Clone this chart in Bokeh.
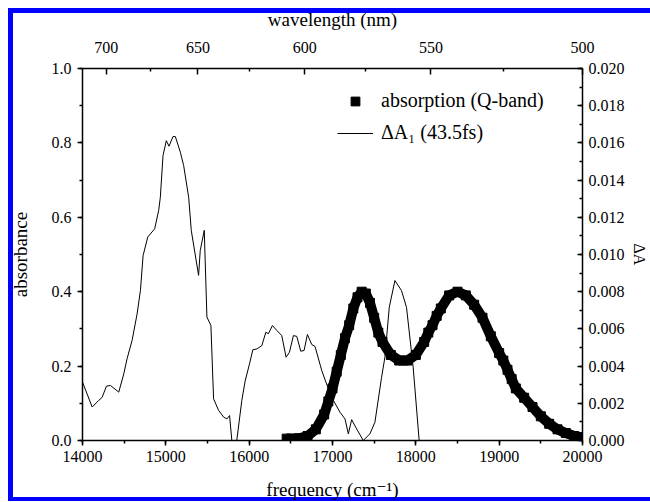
import math
from bokeh.plotting import figure
from bokeh.models import (Range1d, LinearAxis, FixedTicker, SingleIntervalTicker,
                          PrintfTickFormatter, BasicTickFormatter, Legend, LegendItem)
from bokeh.embed import file_html
from bokeh.resources import INLINE

# ---- data ----
# absorption (Q-band), left axis (absorbance)
abs_freq = [16450, 16500, 16600, 16700, 16800, 16900, 16950, 17000, 17050, 17100,
            17150, 17200, 17250, 17300, 17350, 17400, 17450, 17500, 17550, 17600,
            17700, 17800, 17900, 18000, 18100, 18150, 18200, 18250, 18300, 18400,
            18500, 18600, 18700, 18800, 18900, 19000, 19050, 19100, 19150, 19200,
            19300, 19400, 19500, 19600, 19700, 19800, 19900, 20000]
abs_val = [0.005, 0.005, 0.006, 0.012, 0.03, 0.07, 0.105, 0.14, 0.185, 0.23,
           0.275, 0.31, 0.355, 0.385, 0.40, 0.395, 0.37, 0.33, 0.29, 0.265,
           0.23, 0.215, 0.215, 0.23, 0.265, 0.29, 0.31, 0.335, 0.355, 0.39,
           0.40, 0.39, 0.365, 0.33, 0.28, 0.235, 0.215, 0.19, 0.165, 0.14,
           0.115, 0.09, 0.065, 0.045, 0.03, 0.02, 0.012, 0.008]

# Delta A_1 (43.5 fs), right axis
da_freq = [14000, 14116, 14196, 14236, 14287, 14335, 14435, 14495, 14535, 14595,
           14655, 14695, 14727, 14783, 14866, 14914, 14934, 14966, 15006, 15038,
           15086, 15114, 15174, 15214, 15274, 15305, 15393, 15413, 15461, 15493,
           15541, 15573, 15633, 15693, 15733, 15765, 15800, 15840, 15912, 15952,
           16004, 16044, 16092, 16152, 16200, 16231, 16279, 16331, 16391, 16443,
           16483, 16531, 16571, 16619, 16659, 16699, 16751, 16790, 16871, 16950,
           17010, 17090, 17150, 17190, 17230, 17290, 17369, 17449, 17509, 17589,
           17629, 17681, 17749, 17828, 17888, 17968, 18040, 18050]
da_val = [0.00314, 0.00180, 0.00216, 0.00232, 0.00292, 0.00296, 0.00260, 0.00358, 0.00440, 0.00538,
          0.00680, 0.00806, 0.00994, 0.01094, 0.01138, 0.01236, 0.01308, 0.01532, 0.01612, 0.01582,
          0.01634, 0.01634, 0.01550, 0.01478, 0.01308, 0.01130, 0.00888, 0.01022, 0.01130, 0.00664,
          0.00618, 0.00224, 0.00162, 0.00126, 0.00116, 0.00134, -0.0004, -0.0004, 0.00216, 0.00320,
          0.00412, 0.00488, 0.00492, 0.00510, 0.00582, 0.00574, 0.00618, 0.00592, 0.00564, 0.00448,
          0.00474, 0.00564, 0.00560, 0.00480, 0.00484, 0.00570, 0.00516, 0.00506, 0.00376, 0.00278,
          0.00216, 0.00152, 0.00116, 0.00036, 0.00112, 0.00062, 0.00000, 0.00036, 0.00098, 0.00340,
          0.00448, 0.00716, 0.00860, 0.00806, 0.00716, 0.00394, 0.00000, -0.0004]

wl_major = [700, 650, 600, 550, 500]
wl_minor = [675, 625, 575, 525]

FONT = "'Liberation Serif', 'DejaVu Serif', serif"
TICK_SIZE = "16px"
LABEL_SIZE = "19px"

p = figure(width=650, height=502,
           x_range=Range1d(14000, 20000), y_range=Range1d(0, 1),
           output_backend="svg", toolbar_location=None,
           min_border_left=82, min_border_right=67,
           min_border_top=68, min_border_bottom=62,
           x_axis_label="frequency (cm⁻¹)", y_axis_label="absorbance")
# blue page frame (top, left, bottom; the right edge lies beyond the picture)
p.styles = {"background": ("linear-gradient(#0000ff, #0000ff) 8px 8px / 642px 5px no-repeat, "
                           "linear-gradient(#0000ff, #0000ff) 8px 8px / 5px 493px no-repeat, "
                           "linear-gradient(#0000ff, #0000ff) 8px 497px / 642px 4px no-repeat")}
p.border_fill_color = None
p.background_fill_color = None
p.outline_line_color = None
p.xgrid.visible = False
p.ygrid.visible = False

p.extra_y_ranges = {"dA": Range1d(0, 0.02)}


def style_axis(ax):
    ax.axis_line_color = "black"
    ax.axis_line_width = 1.5
    ax.major_tick_line_color = "black"
    ax.major_tick_line_width = 1.5
    ax.minor_tick_line_color = "black"
    ax.minor_tick_line_width = 1.5
    ax.major_label_text_font = FONT
    ax.major_label_text_font_size = TICK_SIZE
    ax.major_label_text_color = "black"
    ax.axis_label_text_font = FONT
    ax.axis_label_text_font_size = LABEL_SIZE
    ax.axis_label_text_font_style = "normal"
    ax.axis_label_text_color = "black"


# bottom axis
xb = p.xaxis[0]
xb.ticker = SingleIntervalTicker(interval=1000, num_minor_ticks=2)
xb.formatter = BasicTickFormatter(use_scientific=False)
style_axis(xb)
xb.major_tick_out = 5
xb.major_tick_in = 0
xb.minor_tick_out = 3
xb.minor_tick_in = 0
xb.major_label_standoff = 5
xb.axis_label_standoff = 14

# left axis
yl = p.yaxis[0]
yl.ticker = SingleIntervalTicker(interval=0.2, num_minor_ticks=2)
yl.formatter = PrintfTickFormatter(format="%.1f")
style_axis(yl)
yl.major_tick_out = 5
yl.major_tick_in = 0
yl.minor_tick_out = 3
yl.minor_tick_in = 0
yl.major_label_standoff = 6
yl.axis_label_standoff = 18

# right axis (Delta A)
yr = LinearAxis(y_range_name="dA", axis_label="ΔA",
                ticker=SingleIntervalTicker(interval=0.002, num_minor_ticks=2),
                formatter=PrintfTickFormatter(format="%.3f"))
style_axis(yr)
yr.axis_label_text_font_size = "16px"
yr.major_tick_out = 0
yr.major_tick_in = 5
yr.minor_tick_out = 0
yr.minor_tick_in = 3
yr.major_label_standoff = 6
yr.axis_label_standoff = 3
p.add_layout(yr, "right")

# top axis (wavelength)
top_ticks = [1e7 / w for w in wl_major]
top_minor = [1e7 / w for w in wl_minor]
xt = LinearAxis(axis_label="wavelength (nm)",
                ticker=FixedTicker(ticks=top_ticks, minor_ticks=top_minor),
                major_label_overrides={t: str(w) for t, w in zip(top_ticks, wl_major)})
style_axis(xt)
xt.major_tick_out = 0
xt.major_tick_in = 6
xt.minor_tick_out = 0
xt.minor_tick_in = 3
xt.major_label_standoff = 16
xt.axis_label_standoff = 9
p.add_layout(xt, "above")

# data renderers
band_line = p.line(abs_freq, abs_val, line_width=10, color="black")
band_pts = p.scatter(abs_freq, abs_val, marker="square", size=9, color="black")
da_line = p.line(da_freq, da_val, y_range_name="dA", line_width=1, color="black")

legend = Legend(items=[LegendItem(label="absorption (Q-band)", renderers=[band_pts]),
                       LegendItem(label="ΔA₁ (43.5fs)", renderers=[da_line])],
                location=(255, 296))
legend.border_line_color = None
legend.background_fill_alpha = 0
legend.padding = 0
legend.margin = 0
legend.spacing = 9
legend.glyph_width = 36
legend.glyph_height = 22
legend.label_height = 22
legend.label_standoff = 8
legend.label_text_font = FONT
legend.label_text_font_size = "20px"
legend.label_text_color = "black"
p.add_layout(legend)

open("out.html", "w").write(file_html(p, INLINE))
